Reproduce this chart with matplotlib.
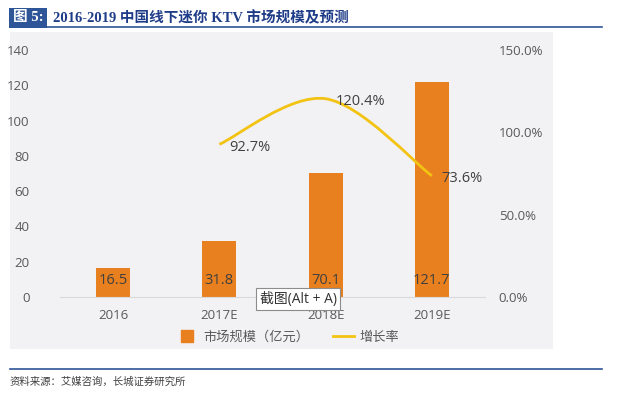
import matplotlib
matplotlib.use("Agg")
import matplotlib.pyplot as plt
from matplotlib.path import Path
from matplotlib.patches import PathPatch, Rectangle
from matplotlib.lines import Line2D
from matplotlib.ticker import FuncFormatter

plt.rcParams['font.family'] = ['Open Sans', 'Noto Sans CJK SC', 'DejaVu Sans']

# data
years = ["2016", "2017E", "2018E", "2019E"]
market = [16.5, 31.8, 70.1, 121.7]
growth_years = [1, 2, 3]
growth = [92.7, 120.4, 73.6]

bar_color = "#E8801F"
line_color = "#F2C312"
txt_color = "#595959"

fig = plt.figure(figsize=(6.4, 3.93), dpi=100)

# grey chart panel
fig.add_artist(Rectangle((0.0156, 0.112), 0.848, 0.807, transform=fig.transFigure,
                         facecolor="#F2F1F4", edgecolor="none", zorder=-5))

ax = fig.add_axes([0.09375, 0.2443, 0.664, 0.6285])
ax.set_facecolor("none")
x = list(range(len(years)))
ax.bar(x, market, width=0.32, color=bar_color, zorder=2)
ax.set_xlim(-0.5, 3.5)
ax.set_ylim(0, 140)
ax.set_yticks(range(0, 141, 20))
ax.set_xticks(x)
ax.set_xticklabels(years)
for s in ["top", "left", "right"]:
    ax.spines[s].set_visible(False)
ax.spines["bottom"].set_color("#D9D9D9")
ax.tick_params(length=0, colors=txt_color, labelsize=9.5)
ax.tick_params(axis="x", pad=9)
ax.tick_params(axis="y", pad=22)

for i, v in enumerate(market):
    ax.annotate(f"{v}", xy=(i, 0), xytext=(0, 12), textcoords="offset points",
                ha="center", va="center", fontsize=10.5, color="#404040", zorder=3)

ax2 = ax.twinx()
ax2.set_ylim(0, 150)
ax2.set_yticks([0, 50, 100, 150])
ax2.yaxis.set_major_formatter(FuncFormatter(lambda v, p: f"{v:.1f}%"))
for s in ["top", "left", "right", "bottom"]:
    ax2.spines[s].set_visible(False)
ax2.tick_params(length=0, colors=txt_color, labelsize=9.5, pad=10)

# smooth line (bezier through data points)
pts = list(zip(growth_years, growth))
verts = [pts[0]]
codes = [Path.MOVETO]
for i in range(len(pts) - 1):
    p0 = pts[i - 1] if i > 0 else pts[i]
    p1 = pts[i]
    p2 = pts[i + 1]
    p3 = pts[i + 2] if i + 2 < len(pts) else p2
    c1 = (p1[0] + (p2[0] - p0[0]) / 6, p1[1] + (p2[1] - p0[1]) / 6)
    c2 = (p2[0] - (p3[0] - p1[0]) / 6, p2[1] - (p3[1] - p1[1]) / 6)
    verts += [c1, c2, p2]
    codes += [Path.CURVE4] * 3
ax2.add_patch(PathPatch(Path(verts, codes), facecolor="none", edgecolor=line_color,
                        lw=2, zorder=4))

for xi, g in zip(growth_years, growth):
    ax2.annotate(f"{g}%", xy=(xi, g), xytext=(7, -2), textcoords="offset points",
                 ha="left", va="center", fontsize=10.5, color="#404040", zorder=5)

handles = [Line2D([], [], marker="s", markersize=9, color=bar_color, lw=0),
           Line2D([], [], color=line_color, lw=2)]
fig.legend(handles, ["市场规模（亿元）", "增长率"], loc="center", bbox_to_anchor=(0.45, 0.142),
           ncol=2, frameon=False, fontsize=9.5, labelcolor=txt_color,
           handlelength=1.6, columnspacing=1.8, handletextpad=0.4)

# screenshot tooltip
fig.text(0.466, 0.238, "截图(Alt + A)", ha="center", va="center", fontsize=10, color="#333333",
         bbox=dict(boxstyle="square,pad=0.25", facecolor="white", edgecolor="#8C8C8C", lw=0.8),
         zorder=10)

# title bar
fig.text(0.02, 0.955, "图 5:", ha="left", va="center", fontsize=10.5, color="white",
         fontweight="bold", family=["Liberation Serif", "Noto Sans CJK SC"],
         bbox=dict(boxstyle="square,pad=0.25", facecolor="#2E5597", edgecolor="none"))
fig.text(0.083, 0.955, "2016-2019 中国线下迷你 KTV 市场规模及预测", ha="left", va="center",
         fontsize=10.5, color="#1F3C88", fontweight="bold",
         family=["Liberation Serif", "Noto Sans CJK SC"])
fig.add_artist(Line2D([0.0156, 0.94], [0.931, 0.931], color="#2E5597", lw=1.2,
                      transform=fig.transFigure))

# source
fig.add_artist(Line2D([0.0156, 0.94], [0.061, 0.061], color="#2E5597", lw=1.2,
                      transform=fig.transFigure))
fig.text(0.0156, 0.028, "资料来源：艾媒咨询，长城证券研究所", ha="left", va="center",
         fontsize=7.5, color="#404040", style="italic")

fig.savefig("out.png", dpi=100)
